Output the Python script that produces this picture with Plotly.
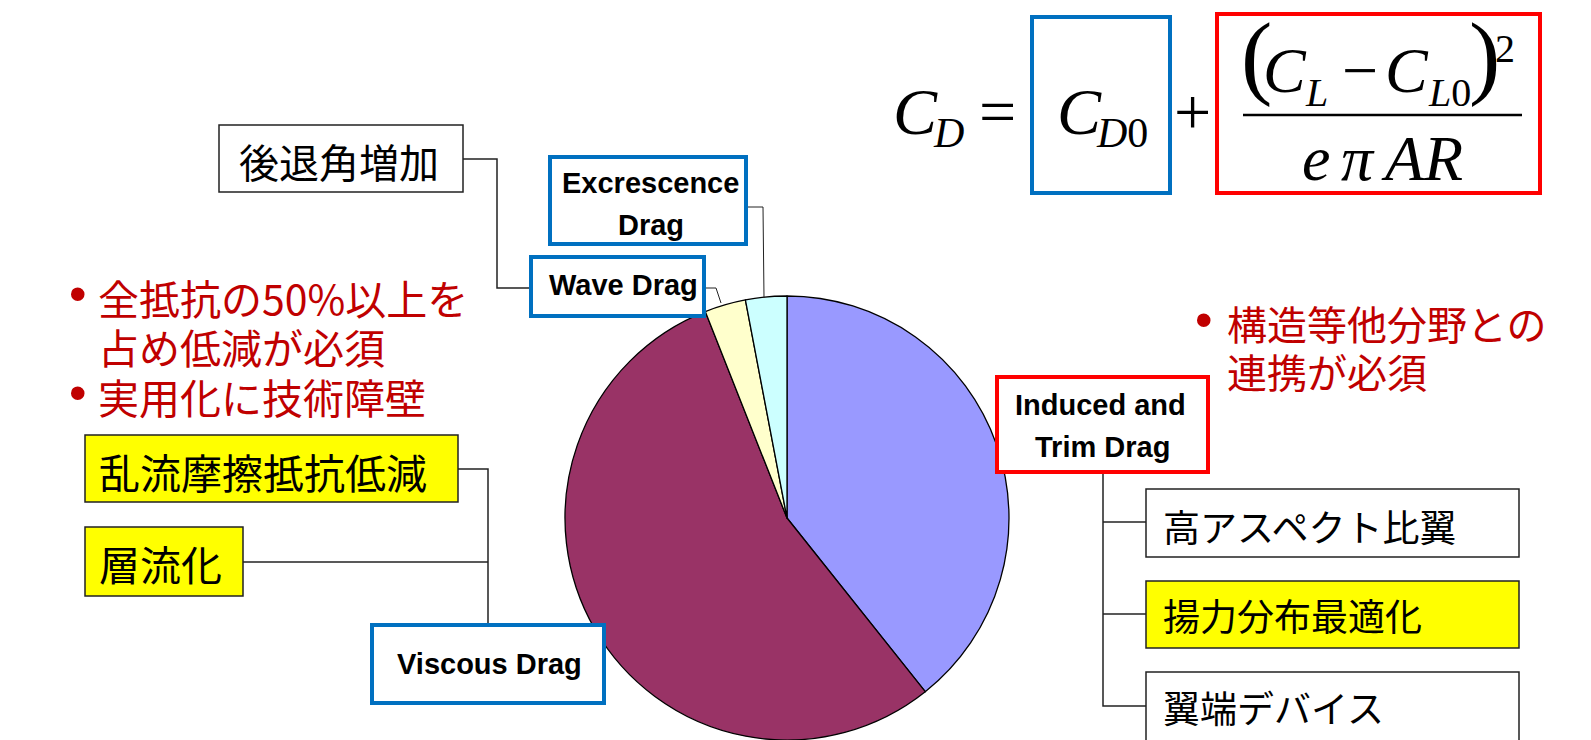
import plotly.graph_objects as go

# ---------------- data ----------------
slice_labels = ["Induced and Trim Drag", "Viscous Drag", "Wave Drag", "Excrescence Drag"]
slice_values = [39.3, 54.7, 3.0, 3.0]
slice_colors = ["#9999FF", "#993366", "#FFFFCC", "#CCFFFF"]

wave_measures = ["後退角増加"]
viscous_measures = ["乱流摩擦抵抗低減", "層流化"]
induced_measures = ["高アスペクト比翼", "揚力分布最適化", "翼端デバイス"]
viscous_notes = ["全抵抗の50%以上を", "占め低減が必須", "実用化に技術障壁"]
induced_notes = ["構造等他分野との", "連携が必須"]

W, H = 1591, 740


def X(x):
    return x / W


def Y(y):
    return 1 - y / H


fig = go.Figure()

# pie (radius 222 px, centre x=787, touching bottom edge)
r = 222
cx = 787
fig.add_trace(go.Pie(
    labels=slice_labels,
    values=slice_values,
    sort=False,
    direction="clockwise",
    rotation=0,
    marker=dict(colors=slice_colors, line=dict(color="#000000", width=1.3)),
    textinfo="none",
    hoverinfo="label+percent",
    showlegend=False,
    domain=dict(x=[X(cx - r), X(cx + r)], y=[0, (2 * r) / H]),
))

shapes = []


def rect(x0, y0, x1, y1, color="#222222", width=1.5, fill="white"):
    shapes.append(dict(type="rect", xref="paper", yref="paper",
                       x0=X(x0), x1=X(x1), y0=Y(y1), y1=Y(y0),
                       line=dict(color=color, width=width),
                       fillcolor=fill, layer="above"))


def path(points, color="#222222", width=1.5):
    d = "M " + " L ".join(f"{X(px)} {Y(py)}" for px, py in points)
    shapes.append(dict(type="path", xref="paper", yref="paper", path=d,
                       line=dict(color=color, width=width), layer="above"))


annotations = []


def text(t, x, y, size, family, color="black", xanchor="center", weight="normal"):
    annotations.append(dict(text=t, x=X(x), y=Y(y), xref="paper", yref="paper",
                            showarrow=False, xanchor=xanchor, yanchor="middle",
                            borderpad=0,
                            font=dict(size=size, family=family, color=color,
                                      weight=weight)))


CJK = "Noto Sans CJK JP"
SANS = "Liberation Sans, Arial"
SERIF = "Liberation Serif, Times New Roman"
BLUE = "#0070C0"
RED = "#FF0000"
DRED = "#C00000"

# ---------- connectors ----------
path([(462, 159), (497, 159), (497, 288), (531, 288)])            # 後退角増加 -> Wave
path([(704, 288), (716, 288), (721, 303)], width=1)                # Wave leader
path([(746, 207), (763, 207), (764, 298)], width=1)                # Excrescence leader
path([(457, 469), (488, 469), (488, 625)])                         # 乱流 -> Viscous
path([(243, 562), (488, 562)])                                     # 層流化
path([(1103, 472), (1103, 706), (1146, 706)])                      # tree
path([(1103, 522), (1146, 522)])
path([(1103, 614), (1146, 614)])

# ---------- boxes ----------
rect(219, 125, 463, 192)                                           # 後退角増加
rect(550, 157, 746, 244, color=BLUE, width=4)                      # Excrescence
rect(531, 257, 704, 316, color=BLUE, width=4)                      # Wave
rect(85, 435, 458, 502, fill="#FFFF00")                            # 乱流
rect(85, 527, 243, 596, fill="#FFFF00")                            # 層流化
rect(372, 625, 604, 703, color=BLUE, width=4)                      # Viscous
rect(997, 377, 1208, 472, color=RED, width=4)                      # Induced
rect(1146, 489, 1519, 557)                                         # 高アスペクト比翼
rect(1146, 581, 1519, 648, fill="#FFFF00")                         # 揚力分布最適化
rect(1146, 672, 1519, 760)                                         # 翼端デバイス
rect(1032, 17, 1170, 193, color=BLUE, width=4)                     # CD0 box
rect(1217, 14, 1540, 193, color=RED, width=4)                      # induced term box

# fraction bar
shapes.append(dict(type="line", xref="paper", yref="paper",
                   x0=X(1243), x1=X(1522), y0=Y(115), y1=Y(115),
                   line=dict(color="black", width=2.5), layer="above"))

# ---------- box texts ----------
text(wave_measures[0], 339, 161, 40, CJK)
text("Excrescence", 650, 183, 29, SANS, weight="bold")
text("Drag", 651, 225, 29, SANS, weight="bold")
text("Wave Drag", 623, 285, 29, SANS, weight="bold")
text(viscous_measures[0], 98, 471, 41, CJK, xanchor="left")
text(viscous_measures[1], 98, 563, 41, CJK, xanchor="left")
text("Viscous Drag", 489, 664, 29, SANS, weight="bold")
text("Induced and", 1100, 405, 29, SANS, weight="bold")
text("Trim Drag", 1102, 447, 29, SANS, weight="bold")
for t, yy, in zip(induced_measures, [526, 615, 707]):
    text(t, 1162, yy, 37, CJK, xanchor="left")

# ---------- red notes ----------
text("•", 78, 294, 50, SANS, color=DRED)
text(viscous_notes[0], 97, 297, 41, CJK, color=DRED, xanchor="left")
text(viscous_notes[1], 97, 346, 41, CJK, color=DRED, xanchor="left")
text("•", 78, 393, 50, SANS, color=DRED)
text(viscous_notes[2], 97, 396, 41, CJK, color=DRED, xanchor="left")
text("•", 1204, 320, 50, SANS, color=DRED)
text(induced_notes[0], 1226, 323, 40, CJK, color=DRED, xanchor="left")
text(induced_notes[1], 1226, 371, 40, CJK, color=DRED, xanchor="left")

# ---------- equation ----------
text("<i>C</i>", 916, 111, 66, SERIF)
text("<i>D</i>", 948, 133, 42, SERIF)
text("=", 998, 111, 66, SERIF)
text("<i>C</i>", 1079, 111, 66, SERIF)
text("<i>D</i>0", 1122, 133, 42, SERIF)
text("+", 1192, 111, 66, SERIF)
text("(", 1256, 55, 94, SERIF)
text("<i>C</i>", 1285, 70, 64, SERIF)
text("<i>L</i>", 1316, 93, 40, SERIF)
text("\u2212", 1360, 70, 64, SERIF)
text("<i>C</i>", 1407, 70, 64, SERIF)
text("<i>L</i>0", 1449, 93, 40, SERIF)
text(")", 1484, 55, 94, SERIF)
text("2", 1505, 48, 40, SERIF)
text("<i>e</i>", 1316, 158, 64, SERIF)
text("<i>\u03c0</i>", 1358, 158, 64, SERIF)
text("<i>AR</i>", 1422, 158, 64, SERIF)

fig.update_layout(
    width=W, height=H,
    margin=dict(l=0, r=0, t=0, b=0),
    paper_bgcolor="white", plot_bgcolor="white",
    showlegend=False,
    shapes=shapes,
    annotations=annotations,
)

fig.write_html("out.html",
               config={"displayModeBar": False},
               post_script="document.body.style.margin='0px';"
                           "document.body.style.overflow='hidden';")
